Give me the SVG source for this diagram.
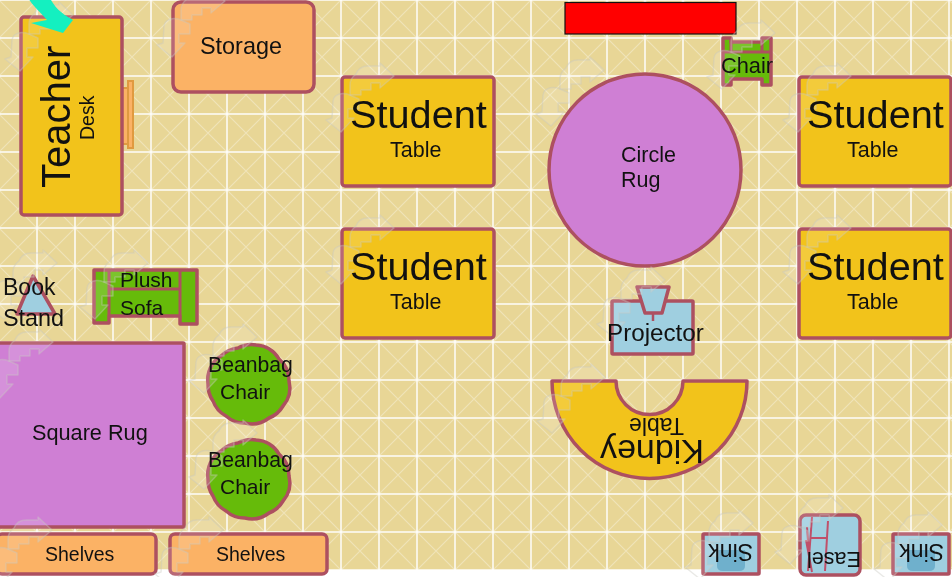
<svg xmlns="http://www.w3.org/2000/svg" width="952" height="577" viewBox="0 0 952 577">
<style>
.n{stroke:#ad5060;stroke-width:3.500;stroke-linejoin:round}
.y{fill:#f2c31b}.o{fill:#fbb265}.p{fill:#cf7fd4}.g{fill:#66bb0a}.b{fill:#9fcfe0}
text{font-family:"Liberation Sans",Arial,sans-serif;fill:#111}
.ic{fill:#fff;fill-opacity:.14;stroke:#c8c8c0;stroke-opacity:.4;stroke-width:1.500;stroke-linejoin:round}
</style>
<defs>
<filter id="soft" x="0" y="0" width="100%" height="100%" filterUnits="objectBoundingBox" color-interpolation-filters="sRGB"><feGaussianBlur stdDeviation="0.4"/></filter>
<pattern id="grid" x="-1" y="0" width="38" height="38" patternUnits="userSpaceOnUse">
<path d="M0,0L38,38M38,0L0,38" stroke="#fff" stroke-opacity=".32" stroke-width="1.200" fill="none"/>
<path d="M0,0V38M0,0H38M38,0V38M0,38H38" stroke="#fff" stroke-width="1.500" stroke-opacity=".95" fill="none"/>
</pattern>
<g id="icon">
<path class="ic" d="M14,-3C16,-8 20,-11 26,-11L38,-11L38,-14L52,-1L38,11L38,6L29,6L29,13L19,13L19,18L8,18L8,8C8,4 10,0 14,-3Z"/>
<path class="ic" d="M8,18C0,15 -8,17 -9,24L-10,41L-16,43L-1,55L12,41L6,41L6,32L17,32L17,22L8,18Z"/>
</g>
<path id="bag" class="n g" d="M256,345A28,28 0 0 1 279,359A28,28 0 0 1 289,381A28,28 0 0 1 283,406A28,28 0 0 1 269,418A28,28 0 0 1 245,423A28,28 0 0 1 226,416A28,28 0 0 1 213,401A28,28 0 0 1 208,384A28,28 0 0 1 221,356A28,28 0 0 1 238,348A28,28 0 0 1 256,345Z"/>
</defs>
<g filter="url(#soft)">
<rect width="952" height="577" fill="#fff"/>
<rect width="952" height="570" fill="#e8d696"/>
<rect width="952" height="570" fill="url(#grid)"/>

<g id="teacher-desk">
<rect x="122" y="88" width="6" height="56" fill="#fbb265" stroke="#e09a40" stroke-width="2"/>
<rect x="128" y="81" width="5" height="67" fill="#fbb265" stroke="#e09a40" stroke-width="2"/>
<rect class="n y" x="21" y="17" width="101" height="198" rx="3"/>
<use href="#icon" x="21" y="16"/>
<path d="M28,-2L50,-2C54,6 60,13 73,20L63,33L31,23L47,20C40,12 33,6 28,-2Z" fill="#14f0c0"/>
<text transform="translate(70,188) rotate(-90)" font-size="40">Teacher</text>
<text transform="translate(94,140) rotate(-90)" font-size="19.500">Desk</text>
</g>
<g id="storage">
<rect class="n o" x="173" y="2" width="141" height="90" rx="8"/>
<use href="#icon" x="173" y="2"/>
<text x="200" y="54" font-size="23.400">Storage</text>
</g>
<g id="student-table-1">
<rect class="n y" x="342" y="77" width="152" height="109" rx="3"/>
<use href="#icon" x="342" y="77"/>
<text x="350" y="128" font-size="39.700">Student</text>
<text x="390" y="157" font-size="21.500">Table</text>
</g>
<g id="student-table-2">
<rect class="n y" x="342" y="229" width="152" height="109" rx="3"/>
<use href="#icon" x="342" y="229"/>
<text x="350" y="280" font-size="39.700">Student</text>
<text x="390" y="309" font-size="21.500">Table</text>
</g>
<g id="student-table-3">
<rect class="n y" x="799" y="77" width="152" height="109" rx="3"/>
<use href="#icon" x="799" y="77"/>
<text x="807" y="128" font-size="39.700">Student</text>
<text x="847" y="157" font-size="21.500">Table</text>
</g>
<g id="student-table-4">
<rect class="n y" x="799" y="229" width="152" height="109" rx="3"/>
<use href="#icon" x="799" y="229"/>
<text x="807" y="280" font-size="39.700">Student</text>
<text x="847" y="309" font-size="21.500">Table</text>
</g>
<g id="red-board">
<rect x="565" y="2.500" width="171" height="31.500" fill="#ff0000" stroke="#111" stroke-width="1.200"/>
</g>
<g id="chair">
<path class="n g" d="M723,38H731V42H762V38H771V85H762V79H731V85H723Z"/>
<path d="M731,42V52M762,42V52M723,52H771" fill="none" stroke="#ad5060" stroke-width="3"/>
<use href="#icon" x="723" y="34"/>
<text x="721" y="73" font-size="21.800">Chair</text>
</g>
<g id="circle-rug">
<circle class="n p" cx="645" cy="170" r="96"/>
<use href="#icon" x="552" y="71"/>
<text x="621" y="162" font-size="21.500">Circle</text>
<text x="621" y="187" font-size="21.500">Rug</text>
</g>
<g id="projector">
<rect class="n b" x="612" y="301" width="81" height="53" rx="1"/>
<path class="n b" d="M637,287H669L662,313H645Z"/>
<path d="M653,313V321" stroke="#ad5060" stroke-width="2.500"/>
<use href="#icon" x="613" y="281"/>
<text x="607" y="341" font-size="24.200">Projector</text>
</g>
<g id="kidney-table">
<path class="n y" d="M552,381H616A33.500,33.500 0 0 0 683,381H747A97.500,97.500 0 0 1 552,381Z"/>
<use href="#icon" x="553" y="378"/>
<text transform="translate(704,440) rotate(180)" font-size="34">Kidney</text>
<text transform="translate(684,418) rotate(180)" font-size="23">Table</text>
</g>
<g id="book-stand">
<path class="n b" d="M33,276L55,314H17Z"/>
<use href="#icon" x="5" y="264"/>
<text x="3" y="295" font-size="23">Book</text>
<text x="3" y="326" font-size="23.400">Stand</text>
</g>
<g id="plush-sofa">
<path class="n g" d="M94,270H197V324H180V316H109V323H94Z"/>
<path d="M109,270V316M180,270V316M109,289H180" fill="none" stroke="#ad5060" stroke-width="3"/>
<use href="#icon" x="96" y="264"/>
<text x="120" y="287" font-size="21">Plush</text>
<text x="120" y="315" font-size="21">Sofa</text>
</g>
<g id="square-rug">
<rect class="n p" x="-2" y="343" width="186" height="184" rx="1"/>
<use href="#icon" x="1" y="343"/>
<text x="32" y="440" font-size="21.700">Square Rug</text>
</g>
<g id="beanbag-1">
<use href="#bag"/>
<use href="#icon" x="205" y="338"/>
<text x="208" y="372" font-size="21.200">Beanbag</text>
<text x="220" y="399" font-size="21">Chair</text>
</g>
<g id="beanbag-2">
<use href="#bag" y="95"/>
<use href="#icon" x="205" y="434"/>
<text x="208" y="467" font-size="21.200">Beanbag</text>
<text x="220" y="494" font-size="21">Chair</text>
</g>
<g id="shelves-1">
<rect class="n o" x="-3" y="534" width="159" height="40" rx="5"/>
<use href="#icon" x="0" y="531"/>
<text x="45" y="561" font-size="19.500">Shelves</text>
</g>
<g id="shelves-2">
<rect class="n o" x="170" y="534" width="157" height="40" rx="5"/>
<use href="#icon" x="171" y="531"/>
<text x="216" y="561" font-size="19.500">Shelves</text>
</g>
<g id="sink-1">
<rect class="n b" x="703" y="534" width="56" height="40" rx="1"/>
<path d="M717,550H745V566Q745,571 739,571H723Q717,571 717,566Z" fill="#6fb0cc"/>
<use href="#icon" x="701" y="524"/>
<text transform="translate(753,544) rotate(180)" font-size="23">Sink</text>
</g>
<g id="easel">
<rect class="n b" x="800" y="515" width="60" height="60" rx="6"/>
<path d="M812,517L808,571M828,521L825,571M807,527L810,568M810,538H826M806,540L812,572" fill="none" stroke="#c0506a" stroke-width="2"/>
<use href="#icon" x="791" y="509"/>
<text transform="translate(861,552) rotate(180)" font-size="21.600">Easel</text>
</g>
<g id="sink-2">
<rect class="n b" x="893" y="534" width="56" height="40" rx="1"/>
<path d="M907,550H935V566Q935,571 929,571H913Q907,571 907,566Z" fill="#6fb0cc"/>
<use href="#icon" x="890" y="526"/>
<text transform="translate(944,544) rotate(180)" font-size="23">Sink</text>
</g>
<g id="connectors"/>
</g>
</svg>
